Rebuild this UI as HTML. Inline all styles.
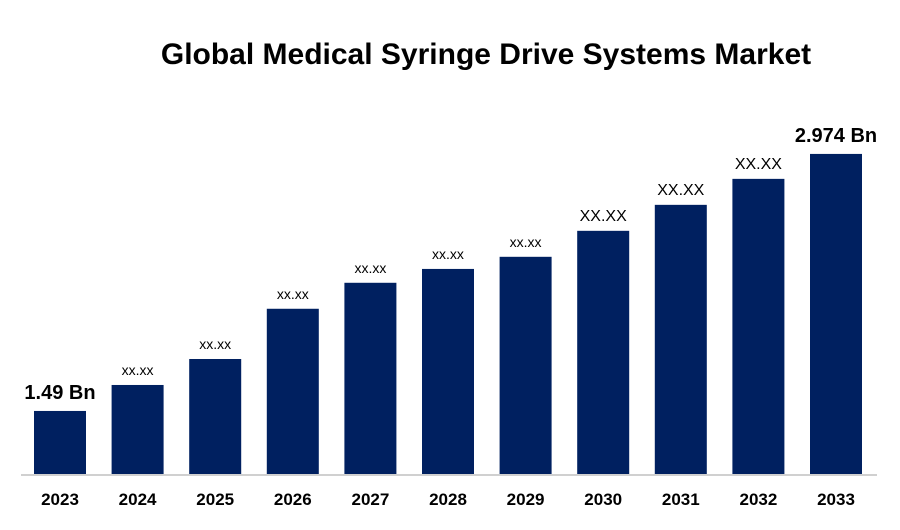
<!DOCTYPE html>
<html><head><meta charset="utf-8"><style>
body{margin:0;background:#fff;width:900px;height:525px;overflow:hidden}
svg{font-family:"Liberation Sans",Arial,sans-serif}
</style></head><body>
<svg id="chart" width="900" height="525">
<text x="486" y="64" text-anchor="middle" font-size="30" font-weight="bold">Global Medical Syringe Drive Systems Market</text>
<line x1="21" y1="475" x2="877" y2="475" stroke="#d0d0d0" stroke-width="2"/>
<g id="bars"></g>
</svg>
<script>
const categories=["2023","2024","2025","2026","2027","2028","2029","2030","2031","2032","2033"];
const values=[1.49,1.64,1.79,2.08,2.23,2.31,2.38,2.53,2.68,2.83,2.974];
const valueLabels=["1.49 Bn","xx.xx","xx.xx","xx.xx","xx.xx","xx.xx","xx.xx","XX.XX","XX.XX","XX.XX","2.974 Bn"];
const baseline=474, yMin=1.126, pxPerUnit=173.2;
function y(v){return baseline-(v-yMin)*pxPerUnit;}
function x(i){return 34+i*77.6;}
const bw=52, ns="http://www.w3.org/2000/svg", g=document.getElementById("bars");
categories.forEach((c,i)=>{
  const r=document.createElementNS(ns,"rect");
  r.setAttribute("x",x(i));r.setAttribute("y",y(values[i]));
  r.setAttribute("width",bw);r.setAttribute("height",baseline-y(values[i]));
  r.setAttribute("fill","#002060");
  
  
  g.appendChild(r);
  const t=document.createElementNS(ns,"text");
  t.setAttribute("x",x(i)+bw/2);t.setAttribute("y",505);
  t.setAttribute("text-anchor","middle");t.setAttribute("font-size","17");t.setAttribute("font-weight","bold");
  t.textContent=c;
  
  
  g.appendChild(t);
  const l=document.createElementNS(ns,"text");
  const lab=valueLabels[i];
  const big=lab.indexOf("Bn")>=0, caps=lab==="XX.XX";
  let cx=x(i)+bw/2;
  if(i===0)cx=60; if(i===categories.length-1)cx=836;
  l.setAttribute("x",cx);l.setAttribute("y",y(values[i])-(big?12:10));
  l.setAttribute("text-anchor","middle");
  l.setAttribute("font-size",big?"20":(caps?"16":"14"));
  if(big)l.setAttribute("font-weight","bold");
  l.textContent=lab;
  
  
  g.appendChild(l);
});
</script>
</body></html>
